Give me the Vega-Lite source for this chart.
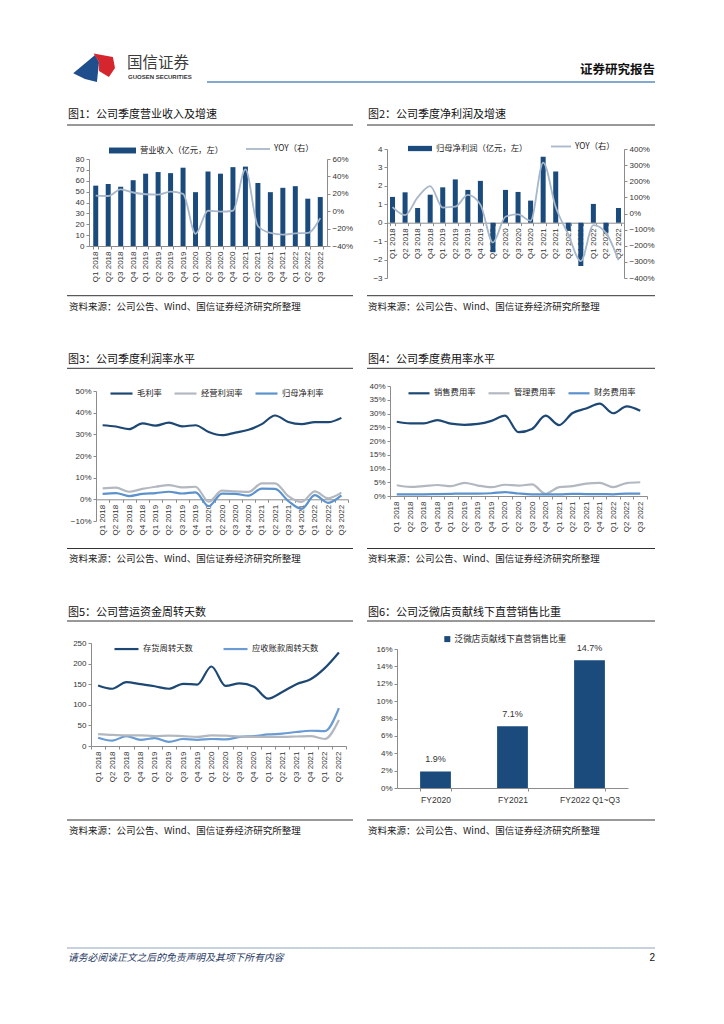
{
  "$schema": "https://vega.github.io/schema/vega-lite/v6.json",
  "width": 724,
  "height": 1024,
  "padding": 0,
  "autosize": {"type": "none"},
  "background": "white",
  "config": {
    "view": {"stroke": null},
    "font": "Noto Sans CJK SC",
    "axis": {"grid": false, "domainColor": "#8c8c8c", "tickColor": "#8c8c8c", "tickSize": 3, "labelColor": "#333333", "labelFont": "Liberation Sans", "labelFontSize": 8, "labelPadding": 2},
    "legend": {"labelFont": "Noto Sans CJK SC", "labelFontSize": 8.3, "labelColor": "#222222", "padding": 0, "direction": "horizontal", "labelOffset": 3}
  },
  "datasets": {
    "rev": [
      {"q": "Q1 2018", "rev": 55.5, "yoy": 0.18},
      {"q": "Q2 2018", "rev": 57.0, "yoy": 0.175},
      {"q": "Q3 2018", "rev": 54.5, "yoy": 0.25},
      {"q": "Q4 2018", "rev": 60.5, "yoy": 0.215},
      {"q": "Q1 2019", "rev": 66.5, "yoy": 0.195},
      {"q": "Q2 2019", "rev": 68.0, "yoy": 0.19},
      {"q": "Q3 2019", "rev": 67.0, "yoy": 0.225},
      {"q": "Q4 2019", "rev": 72.0, "yoy": 0.2},
      {"q": "Q1 2020", "rev": 49.5, "yoy": -0.26},
      {"q": "Q2 2020", "rev": 68.5, "yoy": 0.005},
      {"q": "Q3 2020", "rev": 66.5, "yoy": -0.005},
      {"q": "Q4 2020", "rev": 72.5, "yoy": 0.005},
      {"q": "Q1 2021", "rev": 73.0, "yoy": 0.48},
      {"q": "Q2 2021", "rev": 58.0, "yoy": -0.17},
      {"q": "Q3 2021", "rev": 49.5, "yoy": -0.25},
      {"q": "Q4 2021", "rev": 53.5, "yoy": -0.27},
      {"q": "Q1 2022", "rev": 55.0, "yoy": -0.255},
      {"q": "Q2 2022", "rev": 43.5, "yoy": -0.25},
      {"q": "Q3 2022", "rev": 45.0, "yoy": -0.08}
    ],
    "profit": [
      {"q": "Q1 2018", "np": 1.4, "yoy": 0.4},
      {"q": "Q2 2018", "np": 1.65, "yoy": -0.1},
      {"q": "Q3 2018", "np": 0.8, "yoy": 1.0},
      {"q": "Q4 2018", "np": 1.52, "yoy": 1.7},
      {"q": "Q1 2019", "np": 1.92, "yoy": 0.37},
      {"q": "Q2 2019", "np": 2.35, "yoy": 0.42},
      {"q": "Q3 2019", "np": 1.78, "yoy": 1.15},
      {"q": "Q4 2019", "np": 2.27, "yoy": 0.55},
      {"q": "Q1 2020", "np": -1.6, "yoy": -1.8},
      {"q": "Q2 2020", "np": 1.78, "yoy": -0.2},
      {"q": "Q3 2020", "np": 1.67, "yoy": -0.06},
      {"q": "Q4 2020", "np": 1.2, "yoy": -0.45},
      {"q": "Q1 2021", "np": 3.58, "yoy": 3.15},
      {"q": "Q2 2021", "np": 2.78, "yoy": 0.4},
      {"q": "Q3 2021", "np": -0.42, "yoy": -1.3},
      {"q": "Q4 2021", "np": -2.35, "yoy": -2.95},
      {"q": "Q1 2022", "np": 1.02, "yoy": -0.72},
      {"q": "Q2 2022", "np": -0.55, "yoy": -1.2},
      {"q": "Q3 2022", "np": 0.8, "yoy": -2.9}
    ],
    "margin": [
      {"q": "Q1 2018", "s": "毛利率", "v": 0.342}, {"q": "Q2 2018", "s": "毛利率", "v": 0.336}, {"q": "Q3 2018", "s": "毛利率", "v": 0.324}, {"q": "Q4 2018", "s": "毛利率", "v": 0.351},
      {"q": "Q1 2019", "s": "毛利率", "v": 0.34}, {"q": "Q2 2019", "s": "毛利率", "v": 0.354}, {"q": "Q3 2019", "s": "毛利率", "v": 0.337}, {"q": "Q4 2019", "s": "毛利率", "v": 0.342},
      {"q": "Q1 2020", "s": "毛利率", "v": 0.311}, {"q": "Q2 2020", "s": "毛利率", "v": 0.296}, {"q": "Q3 2020", "s": "毛利率", "v": 0.308}, {"q": "Q4 2020", "s": "毛利率", "v": 0.321},
      {"q": "Q1 2021", "s": "毛利率", "v": 0.347}, {"q": "Q2 2021", "s": "毛利率", "v": 0.387}, {"q": "Q3 2021", "s": "毛利率", "v": 0.357}, {"q": "Q4 2021", "s": "毛利率", "v": 0.347},
      {"q": "Q1 2022", "s": "毛利率", "v": 0.356}, {"q": "Q2 2022", "s": "毛利率", "v": 0.356}, {"q": "Q3 2022", "s": "毛利率", "v": 0.376},
      {"q": "Q1 2018", "s": "经营利润率", "v": 0.051}, {"q": "Q2 2018", "s": "经营利润率", "v": 0.054}, {"q": "Q3 2018", "s": "经营利润率", "v": 0.035}, {"q": "Q4 2018", "s": "经营利润率", "v": 0.048},
      {"q": "Q1 2019", "s": "经营利润率", "v": 0.058}, {"q": "Q2 2019", "s": "经营利润率", "v": 0.066}, {"q": "Q3 2019", "s": "经营利润率", "v": 0.055}, {"q": "Q4 2019", "s": "经营利润率", "v": 0.058},
      {"q": "Q1 2020", "s": "经营利润率", "v": -0.011}, {"q": "Q2 2020", "s": "经营利润率", "v": 0.04}, {"q": "Q3 2020", "s": "经营利润率", "v": 0.037}, {"q": "Q4 2020", "s": "经营利润率", "v": 0.034},
      {"q": "Q1 2021", "s": "经营利润率", "v": 0.074}, {"q": "Q2 2021", "s": "经营利润率", "v": 0.074}, {"q": "Q3 2021", "s": "经营利润率", "v": 0.015}, {"q": "Q4 2021", "s": "经营利润率", "v": -0.012},
      {"q": "Q1 2022", "s": "经营利润率", "v": 0.037}, {"q": "Q2 2022", "s": "经营利润率", "v": 0.005}, {"q": "Q3 2022", "s": "经营利润率", "v": 0.031},
      {"q": "Q1 2018", "s": "归母净利率", "v": 0.025}, {"q": "Q2 2018", "s": "归母净利率", "v": 0.029}, {"q": "Q3 2018", "s": "归母净利率", "v": 0.015}, {"q": "Q4 2018", "s": "归母净利率", "v": 0.025},
      {"q": "Q1 2019", "s": "归母净利率", "v": 0.029}, {"q": "Q2 2019", "s": "归母净利率", "v": 0.035}, {"q": "Q3 2019", "s": "归母净利率", "v": 0.027}, {"q": "Q4 2019", "s": "归母净利率", "v": 0.032},
      {"q": "Q1 2020", "s": "归母净利率", "v": -0.032}, {"q": "Q2 2020", "s": "归母净利率", "v": 0.026}, {"q": "Q3 2020", "s": "归母净利率", "v": 0.025}, {"q": "Q4 2020", "s": "归母净利率", "v": 0.017},
      {"q": "Q1 2021", "s": "归母净利率", "v": 0.049}, {"q": "Q2 2021", "s": "归母净利率", "v": 0.048}, {"q": "Q3 2021", "s": "归母净利率", "v": -0.008}, {"q": "Q4 2021", "s": "归母净利率", "v": -0.044},
      {"q": "Q1 2022", "s": "归母净利率", "v": 0.019}, {"q": "Q2 2022", "s": "归母净利率", "v": -0.016}, {"q": "Q3 2022", "s": "归母净利率", "v": 0.018}
    ],
    "expense": [
      {"q": "Q1 2018", "s": "销售费用率", "v": 0.27}, {"q": "Q2 2018", "s": "销售费用率", "v": 0.264}, {"q": "Q3 2018", "s": "销售费用率", "v": 0.264}, {"q": "Q4 2018", "s": "销售费用率", "v": 0.276},
      {"q": "Q1 2019", "s": "销售费用率", "v": 0.263}, {"q": "Q2 2019", "s": "销售费用率", "v": 0.259}, {"q": "Q3 2019", "s": "销售费用率", "v": 0.262}, {"q": "Q4 2019", "s": "销售费用率", "v": 0.273},
      {"q": "Q1 2020", "s": "销售费用率", "v": 0.292}, {"q": "Q2 2020", "s": "销售费用率", "v": 0.232}, {"q": "Q3 2020", "s": "销售费用率", "v": 0.244}, {"q": "Q4 2020", "s": "销售费用率", "v": 0.292},
      {"q": "Q1 2021", "s": "销售费用率", "v": 0.258}, {"q": "Q2 2021", "s": "销售费用率", "v": 0.302}, {"q": "Q3 2021", "s": "销售费用率", "v": 0.318}, {"q": "Q4 2021", "s": "销售费用率", "v": 0.336},
      {"q": "Q1 2022", "s": "销售费用率", "v": 0.301}, {"q": "Q2 2022", "s": "销售费用率", "v": 0.326}, {"q": "Q3 2022", "s": "销售费用率", "v": 0.31},
      {"q": "Q1 2018", "s": "管理费用率", "v": 0.039}, {"q": "Q2 2018", "s": "管理费用率", "v": 0.033}, {"q": "Q3 2018", "s": "管理费用率", "v": 0.036}, {"q": "Q4 2018", "s": "管理费用率", "v": 0.04},
      {"q": "Q1 2019", "s": "管理费用率", "v": 0.036}, {"q": "Q2 2019", "s": "管理费用率", "v": 0.048}, {"q": "Q3 2019", "s": "管理费用率", "v": 0.038}, {"q": "Q4 2019", "s": "管理费用率", "v": 0.032},
      {"q": "Q1 2020", "s": "管理费用率", "v": 0.041}, {"q": "Q2 2020", "s": "管理费用率", "v": 0.038}, {"q": "Q3 2020", "s": "管理费用率", "v": 0.042}, {"q": "Q4 2020", "s": "管理费用率", "v": 0.008},
      {"q": "Q1 2021", "s": "管理费用率", "v": 0.032}, {"q": "Q2 2021", "s": "管理费用率", "v": 0.036}, {"q": "Q3 2021", "s": "管理费用率", "v": 0.045}, {"q": "Q4 2021", "s": "管理费用率", "v": 0.048},
      {"q": "Q1 2022", "s": "管理费用率", "v": 0.032}, {"q": "Q2 2022", "s": "管理费用率", "v": 0.047}, {"q": "Q3 2022", "s": "管理费用率", "v": 0.05},
      {"q": "Q1 2018", "s": "财务费用率", "v": 0.006}, {"q": "Q2 2018", "s": "财务费用率", "v": 0.006}, {"q": "Q3 2018", "s": "财务费用率", "v": 0.006}, {"q": "Q4 2018", "s": "财务费用率", "v": 0.007},
      {"q": "Q1 2019", "s": "财务费用率", "v": 0.008}, {"q": "Q2 2019", "s": "财务费用率", "v": 0.009}, {"q": "Q3 2019", "s": "财务费用率", "v": 0.009}, {"q": "Q4 2019", "s": "财务费用率", "v": 0.01},
      {"q": "Q1 2020", "s": "财务费用率", "v": 0.014}, {"q": "Q2 2020", "s": "财务费用率", "v": 0.009}, {"q": "Q3 2020", "s": "财务费用率", "v": 0.006}, {"q": "Q4 2020", "s": "财务费用率", "v": 0.006},
      {"q": "Q1 2021", "s": "财务费用率", "v": 0.006}, {"q": "Q2 2021", "s": "财务费用率", "v": 0.008}, {"q": "Q3 2021", "s": "财务费用率", "v": 0.007}, {"q": "Q4 2021", "s": "财务费用率", "v": 0.007},
      {"q": "Q1 2022", "s": "财务费用率", "v": 0.006}, {"q": "Q2 2022", "s": "财务费用率", "v": 0.009}, {"q": "Q3 2022", "s": "财务费用率", "v": 0.009}
    ],
    "turnover": [
      {"q": "Q1 2018", "s": "存货周转天数", "v": 147}, {"q": "Q2 2018", "s": "存货周转天数", "v": 139}, {"q": "Q3 2018", "s": "存货周转天数", "v": 155}, {"q": "Q4 2018", "s": "存货周转天数", "v": 150},
      {"q": "Q1 2019", "s": "存货周转天数", "v": 145}, {"q": "Q2 2019", "s": "存货周转天数", "v": 139}, {"q": "Q3 2019", "s": "存货周转天数", "v": 151}, {"q": "Q4 2019", "s": "存货周转天数", "v": 149},
      {"q": "Q1 2020", "s": "存货周转天数", "v": 193}, {"q": "Q2 2020", "s": "存货周转天数", "v": 146}, {"q": "Q3 2020", "s": "存货周转天数", "v": 152}, {"q": "Q4 2020", "s": "存货周转天数", "v": 144},
      {"q": "Q1 2021", "s": "存货周转天数", "v": 115}, {"q": "Q2 2021", "s": "存货周转天数", "v": 131}, {"q": "Q3 2021", "s": "存货周转天数", "v": 150}, {"q": "Q4 2021", "s": "存货周转天数", "v": 162},
      {"q": "Q1 2022", "s": "存货周转天数", "v": 189}, {"q": "Q2 2022", "s": "存货周转天数", "v": 227},
      {"q": "Q1 2018", "s": "应收账款周转天数", "v": 20}, {"q": "Q2 2018", "s": "应收账款周转天数", "v": 13}, {"q": "Q3 2018", "s": "应收账款周转天数", "v": 24}, {"q": "Q4 2018", "s": "应收账款周转天数", "v": 15},
      {"q": "Q1 2019", "s": "应收账款周转天数", "v": 19}, {"q": "Q2 2019", "s": "应收账款周转天数", "v": 10}, {"q": "Q3 2019", "s": "应收账款周转天数", "v": 17}, {"q": "Q4 2019", "s": "应收账款周转天数", "v": 15},
      {"q": "Q1 2020", "s": "应收账款周转天数", "v": 17}, {"q": "Q2 2020", "s": "应收账款周转天数", "v": 16}, {"q": "Q3 2020", "s": "应收账款周转天数", "v": 22}, {"q": "Q4 2020", "s": "应收账款周转天数", "v": 24},
      {"q": "Q1 2021", "s": "应收账款周转天数", "v": 28}, {"q": "Q2 2021", "s": "应收账款周转天数", "v": 30}, {"q": "Q3 2021", "s": "应收账款周转天数", "v": 34}, {"q": "Q4 2021", "s": "应收账款周转天数", "v": 37},
      {"q": "Q1 2022", "s": "应收账款周转天数", "v": 36}, {"q": "Q2 2022", "s": "应收账款周转天数", "v": 92},
      {"q": "Q1 2018", "s": "应付账款周转天数", "v": 29}, {"q": "Q2 2018", "s": "应付账款周转天数", "v": 27}, {"q": "Q3 2018", "s": "应付账款周转天数", "v": 26}, {"q": "Q4 2018", "s": "应付账款周转天数", "v": 26},
      {"q": "Q1 2019", "s": "应付账款周转天数", "v": 24}, {"q": "Q2 2019", "s": "应付账款周转天数", "v": 25}, {"q": "Q3 2019", "s": "应付账款周转天数", "v": 24}, {"q": "Q4 2019", "s": "应付账款周转天数", "v": 22},
      {"q": "Q1 2020", "s": "应付账款周转天数", "v": 26}, {"q": "Q2 2020", "s": "应付账款周转天数", "v": 25}, {"q": "Q3 2020", "s": "应付账款周转天数", "v": 23}, {"q": "Q4 2020", "s": "应付账款周转天数", "v": 22},
      {"q": "Q1 2021", "s": "应付账款周转天数", "v": 22}, {"q": "Q2 2021", "s": "应付账款周转天数", "v": 22}, {"q": "Q3 2021", "s": "应付账款周转天数", "v": 23}, {"q": "Q4 2021", "s": "应付账款周转天数", "v": 24},
      {"q": "Q1 2022", "s": "应付账款周转天数", "v": 17}, {"q": "Q2 2022", "s": "应付账款周转天数", "v": 63}
    ],
    "wd": [
      {"p": "FY2020", "v": 0.019},
      {"p": "FY2021", "v": 0.071},
      {"p": "FY2022 Q1~Q3", "v": 0.147}
    ]
  },
  "layer": [
    {
      "data": {"values": [{}]},
      "layer": [
        {"mark": {"type": "point", "shape": "M-0.99,0.3L0.05,-0.57L0.24,-0.24L0.14,0.71L-0.43,0.57Z", "size": 1764, "filled": true, "color": "#1f4e8c", "opacity": 1, "strokeWidth": 0},
         "encoding": {"x": {"datum": 94, "type": "quantitative", "scale": {"domain": [0, 724], "range": [0, 724], "nice": false, "zero": false}, "axis": null}, "y": {"datum": 67, "type": "quantitative", "scale": {"domain": [0, 1024], "range": [0, 1024], "nice": false, "zero": false}, "axis": null}}},
        {"mark": {"type": "point", "shape": "M-0.02,-0.64L0.9,-0.48L1,0.05L0.71,0.48L0.24,0.19L0.24,-0.24Z", "size": 1764, "filled": true, "color": "#d6262d", "opacity": 1, "strokeWidth": 0},
         "encoding": {"x": {"datum": 94}, "y": {"datum": 67}}},
        {"mark": {"type": "text", "text": "国信证券", "align": "left", "baseline": "middle", "fontSize": 15.5, "color": "#3c3c3c"}, "encoding": {"x": {"datum": 127}, "y": {"datum": 63}}},
        {"mark": {"type": "text", "text": "GUOSEN SECURITIES", "align": "left", "baseline": "middle", "fontSize": 6, "fontWeight": "bold", "font": "Liberation Sans", "color": "#333333"}, "encoding": {"x": {"datum": 128}, "y": {"datum": 77}}},
        {"mark": {"type": "text", "text": "证券研究报告", "align": "right", "baseline": "middle", "fontSize": 12.5, "fontWeight": "bold", "color": "#111111"}, "encoding": {"x": {"datum": 655}, "y": {"datum": 70}}},
        {"mark": {"type": "rule", "color": "#5b8bc0", "strokeWidth": 1.5}, "encoding": {"x": {"datum": 207}, "x2": {"datum": 655}, "y": {"datum": 82}}},

        {"mark": {"type": "text", "text": "图1：公司季度营业收入及增速", "align": "left", "baseline": "middle", "fontSize": 11, "color": "#111111"}, "encoding": {"x": {"datum": 68}, "y": {"datum": 115}}},
        {"mark": {"type": "text", "text": "图2：公司季度净利润及增速", "align": "left", "baseline": "middle", "fontSize": 11, "color": "#111111"}, "encoding": {"x": {"datum": 368}, "y": {"datum": 115}}},
        {"mark": {"type": "text", "text": "图3：公司季度利润率水平", "align": "left", "baseline": "middle", "fontSize": 11, "color": "#111111"}, "encoding": {"x": {"datum": 68}, "y": {"datum": 360}}},
        {"mark": {"type": "text", "text": "图4：公司季度费用率水平", "align": "left", "baseline": "middle", "fontSize": 11, "color": "#111111"}, "encoding": {"x": {"datum": 368}, "y": {"datum": 360}}},
        {"mark": {"type": "text", "text": "图5：公司营运资金周转天数", "align": "left", "baseline": "middle", "fontSize": 11, "color": "#111111"}, "encoding": {"x": {"datum": 68}, "y": {"datum": 613}}},
        {"mark": {"type": "text", "text": "图6：公司泛微店贡献线下直营销售比重", "align": "left", "baseline": "middle", "fontSize": 11, "color": "#111111"}, "encoding": {"x": {"datum": 368}, "y": {"datum": 613}}},

        {"mark": {"type": "rule", "color": "#333333", "strokeWidth": 1}, "encoding": {"x": {"datum": 67}, "x2": {"datum": 353}, "y": {"datum": 125}}},
        {"mark": {"type": "rule", "color": "#333333", "strokeWidth": 1}, "encoding": {"x": {"datum": 367}, "x2": {"datum": 655}, "y": {"datum": 125}}},
        {"mark": {"type": "rule", "color": "#333333", "strokeWidth": 1}, "encoding": {"x": {"datum": 67}, "x2": {"datum": 353}, "y": {"datum": 368.3}}},
        {"mark": {"type": "rule", "color": "#333333", "strokeWidth": 1}, "encoding": {"x": {"datum": 367}, "x2": {"datum": 655}, "y": {"datum": 368.3}}},
        {"mark": {"type": "rule", "color": "#333333", "strokeWidth": 1}, "encoding": {"x": {"datum": 67}, "x2": {"datum": 353}, "y": {"datum": 621}}},
        {"mark": {"type": "rule", "color": "#333333", "strokeWidth": 1}, "encoding": {"x": {"datum": 367}, "x2": {"datum": 655}, "y": {"datum": 621}}},

        {"mark": {"type": "rule", "color": "#333333", "strokeWidth": 1}, "encoding": {"x": {"datum": 67}, "x2": {"datum": 353}, "y": {"datum": 295.7}}},
        {"mark": {"type": "rule", "color": "#333333", "strokeWidth": 1}, "encoding": {"x": {"datum": 367}, "x2": {"datum": 655}, "y": {"datum": 295.7}}},
        {"mark": {"type": "rule", "color": "#333333", "strokeWidth": 1}, "encoding": {"x": {"datum": 67}, "x2": {"datum": 353}, "y": {"datum": 548.5}}},
        {"mark": {"type": "rule", "color": "#333333", "strokeWidth": 1}, "encoding": {"x": {"datum": 367}, "x2": {"datum": 655}, "y": {"datum": 548.5}}},
        {"mark": {"type": "rule", "color": "#333333", "strokeWidth": 1}, "encoding": {"x": {"datum": 67}, "x2": {"datum": 353}, "y": {"datum": 820}}},
        {"mark": {"type": "rule", "color": "#333333", "strokeWidth": 1}, "encoding": {"x": {"datum": 367}, "x2": {"datum": 655}, "y": {"datum": 820}}},

        {"mark": {"type": "text", "text": "资料来源：公司公告、Wind、国信证券经济研究所整理", "align": "left", "baseline": "middle", "fontSize": 9.5, "color": "#222222"}, "encoding": {"x": {"datum": 69}, "y": {"datum": 306.5}}},
        {"mark": {"type": "text", "text": "资料来源：公司公告、Wind、国信证券经济研究所整理", "align": "left", "baseline": "middle", "fontSize": 9.5, "color": "#222222"}, "encoding": {"x": {"datum": 368}, "y": {"datum": 306.5}}},
        {"mark": {"type": "text", "text": "资料来源：公司公告、Wind、国信证券经济研究所整理", "align": "left", "baseline": "middle", "fontSize": 9.5, "color": "#222222"}, "encoding": {"x": {"datum": 69}, "y": {"datum": 559.3}}},
        {"mark": {"type": "text", "text": "资料来源：公司公告、Wind、国信证券经济研究所整理", "align": "left", "baseline": "middle", "fontSize": 9.5, "color": "#222222"}, "encoding": {"x": {"datum": 368}, "y": {"datum": 559.3}}},
        {"mark": {"type": "text", "text": "资料来源：公司公告、Wind、国信证券经济研究所整理", "align": "left", "baseline": "middle", "fontSize": 9.5, "color": "#222222"}, "encoding": {"x": {"datum": 69}, "y": {"datum": 830.8}}},
        {"mark": {"type": "text", "text": "资料来源：公司公告、Wind、国信证券经济研究所整理", "align": "left", "baseline": "middle", "fontSize": 9.5, "color": "#222222"}, "encoding": {"x": {"datum": 368}, "y": {"datum": 830.8}}},

        {"mark": {"type": "rule", "color": "#8fa4bd", "strokeWidth": 1}, "encoding": {"x": {"datum": 67}, "x2": {"datum": 655}, "y": {"datum": 948}}},
        {"mark": {"type": "text", "text": "请务必阅读正文之后的免责声明及其项下所有内容", "align": "left", "baseline": "middle", "fontSize": 9.8, "fontStyle": "italic", "color": "#1f3864"}, "encoding": {"x": {"datum": 68}, "y": {"datum": 958}}},
        {"mark": {"type": "text", "text": "2", "align": "right", "baseline": "middle", "fontSize": 10, "font": "Liberation Sans", "color": "#111111"}, "encoding": {"x": {"datum": 655}, "y": {"datum": 958}}}
      ]
    },
    {
      "data": {"name": "rev"},
      "encoding": {"x": {"field": "q", "type": "nominal", "sort": null, "title": null, "scale": {"range": [89, 327], "paddingInner": 0.6, "paddingOuter": 0.34}, "axis": {"orient": "bottom", "offset": -778, "labelAngle": -90, "tickBand": "extent", "labelOverlap": false}}},
      "layer": [
        {"mark": {"type": "bar"},
         "encoding": {
           "y": {"field": "rev", "type": "quantitative", "title": null, "scale": {"domain": [0, 80], "range": [246, 159], "nice": false}, "axis": {"orient": "left", "offset": -89, "values": [0, 10, 20, 30, 40, 50, 60, 70, 80]}},
           "fill": {"datum": "营业收入（亿元，左）", "scale": {"range": ["#1a4b7c"]}, "legend": {"orient": "none", "legendX": 108, "legendY": 136, "title": null, "symbolType": "M-1,-0.22H1V0.22H-1Z", "symbolSize": 729}}}},
        {"mark": {"type": "line", "interpolate": "monotone", "strokeWidth": 1.8},
         "encoding": {
           "y": {"field": "yoy", "type": "quantitative", "title": null, "scale": {"domain": [-0.4, 0.6], "range": [246, 159], "nice": false}, "axis": {"orient": "right", "offset": -397, "format": ".0%", "values": [-0.4, -0.2, 0, 0.2, 0.4, 0.6]}},
           "stroke": {"datum": "YOY（右）", "scale": {"range": ["#a8b7c9"]}, "legend": {"orient": "none", "legendX": 245, "legendY": 136, "title": null, "symbolType": "stroke", "symbolSize": 576, "symbolStrokeWidth": 1.8}}}}
      ],
      "resolve": {"scale": {"y": "independent"}}
    },
    {
      "data": {"name": "profit"},
      "encoding": {"x": {"field": "q", "type": "nominal", "sort": null, "title": null, "scale": {"range": [387, 624], "paddingInner": 0.6, "paddingOuter": 0.24}, "axis": {"orient": "bottom", "offset": -801.3, "labelAngle": -90, "tickBand": "extent", "labelOverlap": false}}},
      "layer": [
        {"mark": {"type": "bar"},
         "encoding": {
           "y": {"field": "np", "type": "quantitative", "title": null, "scale": {"domain": [-3, 4], "range": [278, 149], "nice": false}, "axis": {"orient": "left", "offset": -387, "values": [-3, -2, -1, 0, 1, 2, 3, 4]}},
           "fill": {"datum": "归母净利润（亿元，左）", "scale": {"range": ["#1a4b7c"]}, "legend": {"orient": "none", "legendX": 407, "legendY": 135.5, "title": null, "symbolType": "M-1,-0.22H1V0.22H-1Z", "symbolSize": 576}}}},
        {"mark": {"type": "line", "interpolate": "monotone", "strokeWidth": 1.8},
         "encoding": {
           "y": {"field": "yoy", "type": "quantitative", "title": null, "scale": {"domain": [-4, 4], "range": [278, 149], "nice": false}, "axis": {"orient": "right", "offset": -100, "format": ".0%", "values": [-4, -3, -2, -1, 0, 1, 2, 3, 4]}},
           "stroke": {"datum": "YOY（右）", "scale": {"range": ["#a8b7c9"]}, "legend": {"orient": "none", "legendX": 550, "legendY": 135.5, "title": null, "symbolType": "stroke", "symbolSize": 400, "symbolStrokeWidth": 1.8}}}}
      ],
      "resolve": {"scale": {"y": "independent"}}
    },
    {
      "data": {"name": "margin"},
      "mark": {"type": "line", "interpolate": "monotone", "strokeWidth": 2.2},
      "encoding": {
        "x": {"field": "q", "type": "nominal", "sort": null, "title": null, "scale": {"type": "band", "range": [96, 348], "paddingInner": 0, "paddingOuter": 0}, "axis": {"orient": "bottom", "offset": -524.7, "labelAngle": -90, "tickBand": "extent", "labelOverlap": false}},
        "y": {"field": "v", "type": "quantitative", "title": null, "scale": {"domain": [-0.1, 0.5], "range": [521, 391], "nice": false}, "axis": {"orient": "left", "offset": -96, "format": ".0%", "values": [-0.1, 0, 0.1, 0.2, 0.3, 0.4, 0.5]}},
        "color": {"field": "s", "type": "nominal", "sort": null, "scale": {"domain": ["毛利率", "经营利润率", "归母净利率"], "range": ["#1d4873", "#b3b8c0", "#5b92cd"]}, "legend": {"orient": "none", "legendX": 109, "legendY": 381, "title": null, "symbolType": "stroke", "symbolSize": 484, "symbolStrokeWidth": 2.2, "columnPadding": 8}}
      }
    },
    {
      "data": {"name": "expense"},
      "mark": {"type": "line", "interpolate": "monotone", "strokeWidth": 2.2},
      "encoding": {
        "x": {"field": "q", "type": "nominal", "sort": null, "title": null, "scale": {"type": "band", "range": [390, 647], "paddingInner": 0, "paddingOuter": 0}, "axis": {"orient": "bottom", "offset": -528, "labelAngle": -90, "tickBand": "extent", "labelOverlap": false}},
        "y": {"field": "v", "type": "quantitative", "title": null, "scale": {"domain": [0, 0.4], "range": [496, 386], "nice": false}, "axis": {"orient": "left", "offset": -390, "format": ".0%", "values": [0, 0.05, 0.1, 0.15, 0.2, 0.25, 0.3, 0.35, 0.4]}},
        "color": {"field": "s", "type": "nominal", "sort": null, "scale": {"domain": ["销售费用率", "管理费用率", "财务费用率"], "range": ["#1d4873", "#b3b8c0", "#5b92cd"]}, "legend": {"orient": "none", "legendX": 407, "legendY": 381, "title": null, "symbolType": "stroke", "symbolSize": 441, "symbolStrokeWidth": 2.2, "columnPadding": 8}}
      }
    },
    {
      "data": {"name": "turnover"},
      "mark": {"type": "line", "interpolate": "monotone", "strokeWidth": 2.2},
      "encoding": {
        "x": {"field": "q", "type": "nominal", "sort": null, "title": null, "scale": {"type": "band", "range": [91, 346], "paddingInner": 0, "paddingOuter": 0}, "axis": {"orient": "bottom", "offset": -278, "labelAngle": -90, "tickBand": "extent", "labelOverlap": false}},
        "y": {"field": "v", "type": "quantitative", "title": null, "scale": {"domain": [0, 250], "range": [746, 643], "nice": false}, "axis": {"orient": "left", "offset": -91, "values": [0, 50, 100, 150, 200, 250]}},
        "color": {"field": "s", "type": "nominal", "sort": null, "scale": {"domain": ["存货周转天数", "应收账款周转天数", "应付账款周转天数"], "range": ["#1d4873", "#6a9bd2", "#b3b8c0"]}, "legend": {"orient": "none", "legendX": 113, "legendY": 635.5, "title": null, "values": ["存货周转天数", "应收账款周转天数"], "symbolType": "stroke", "symbolSize": 576, "symbolStrokeWidth": 2.2, "columnPadding": 26}}
      }
    },
    {
      "data": {"name": "wd"},
      "encoding": {"x": {"field": "p", "type": "nominal", "sort": null, "title": null, "scale": {"range": [397, 628], "paddingInner": 0.6, "paddingOuter": 0.3}, "axis": {"orient": "bottom", "offset": -236, "labelAngle": 0, "tickBand": "extent", "labelFontSize": 8.5, "labelPadding": 4}}},
      "layer": [
        {"mark": {"type": "bar"},
         "encoding": {
           "y": {"field": "v", "type": "quantitative", "title": null, "scale": {"domain": [0, 0.16], "range": [788, 649], "nice": false}, "axis": {"orient": "left", "offset": -397, "format": ".0%", "values": [0, 0.02, 0.04, 0.06, 0.08, 0.1, 0.12, 0.14, 0.16]}},
           "fill": {"datum": "泛微店贡献线下直营销售比重", "scale": {"range": ["#1a4b7c"]}, "legend": {"orient": "none", "legendX": 443, "legendY": 634.8, "title": null, "symbolType": "square", "symbolSize": 36, "labelFontSize": 8.6}}}},
        {"mark": {"type": "text", "dy": -7, "baseline": "bottom", "fontSize": 9, "color": "#333333", "font": "Liberation Sans"},
         "encoding": {"y": {"field": "v", "type": "quantitative"}, "text": {"field": "v", "type": "quantitative", "format": ".1%"}}}
      ]
    }
  ],
  "resolve": {"scale": {"x": "independent", "y": "independent", "fill": "independent", "stroke": "independent", "color": "independent"}}
}
